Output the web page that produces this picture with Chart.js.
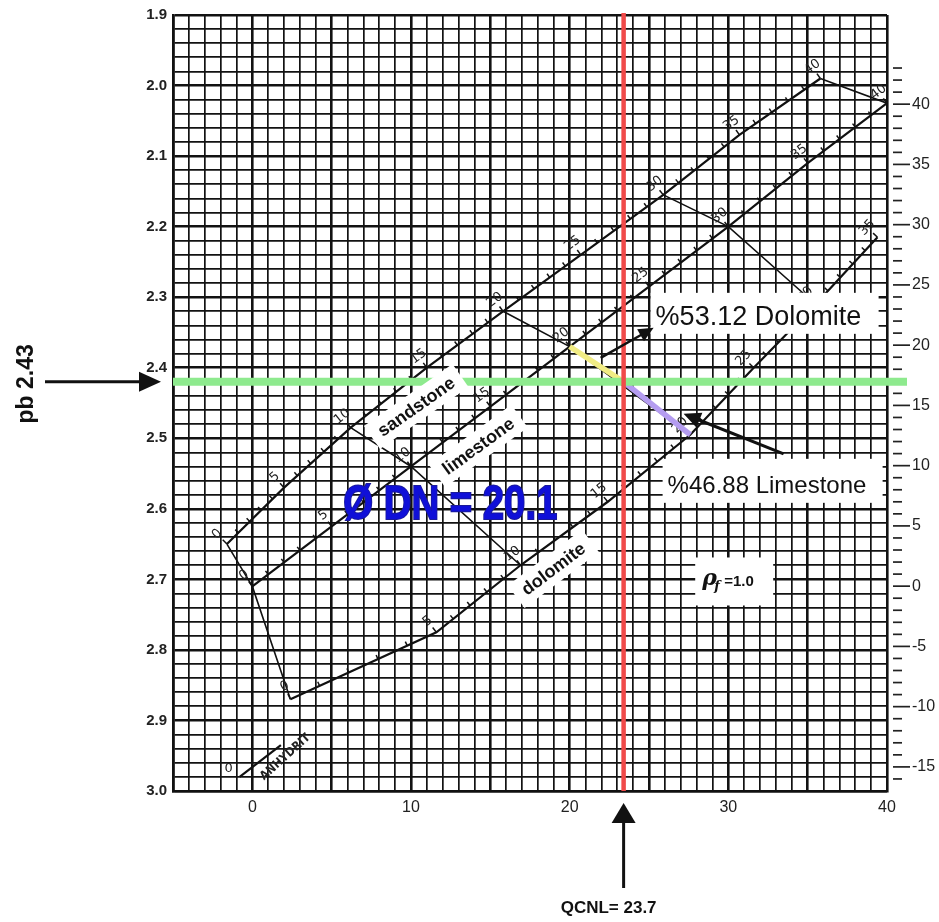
<!DOCTYPE html>
<html>
<head>
<meta charset="utf-8">
<script src="https://cdn.jsdelivr.net/npm/chart.js@4.4.1/dist/chart.umd.min.js"></script>
<style>
  html, body { margin: 0; padding: 0; background: #fff; }
  #wrap { width: 939px; height: 922px; position: relative; }
</style>
</head>
<body>
<div id="wrap"><canvas id="xplot"></canvas></div>
<script>
// Neutron-density crossplot (CNL, rho_f = 1.0) with the lithology reading marked

// porosity marks along each lithology line (p.u.)
const porosityMarks = [0, 5, 10, 15, 20, 25, 30, 35, 40];
const sandstoneCNL = [-1.6, 2.0, 6.2, 11.0, 15.8, 20.7, 25.9, 30.7, 35.8];
const sandstoneRho = [2.65, 2.57, 2.485, 2.40, 2.32, 2.24, 2.155, 2.07, 1.99];
const limestoneCNL = [0, 5, 10, 15, 20, 25, 30, 35, 40];
const limestoneRho = [2.71, 2.625, 2.54, 2.455, 2.37, 2.285, 2.20, 2.11, 2.025];
const dolomiteCNL = [2.4, 11.6, 16.9, 22.4, 27.6, 31.6, 35.5, 39.4];
const dolomiteRho = [2.87, 2.775, 2.68, 2.59, 2.495, 2.40, 2.31, 2.215];
const anhydriteCNL = [-0.8, 1.8];
const anhydriteRho = [2.98, 2.935];
const isoPorosity = [0, 10, 20, 30, 40];

// axes
const xTickLabels = [0, 10, 20, 30, 40];
const rhoTickLabels = [1.9, 2.0, 2.1, 2.2, 2.3, 2.4, 2.5, 2.6, 2.7, 2.8, 2.9, 3.0];
const phiTickLabels = [-15, -10, -5, 0, 5, 10, 15, 20, 25, 30, 35, 40];
const phiMinorFrom = -16, phiMinorTo = 43;

// reading
const qcnlValue = 23.4;
const rhobValue = 2.42;
const qcnlText = 'QCNL= 23.7';
const rhobText = 'pb 2.43';
const phiDNText = 'Ø DN = 20.1';
const dolomitePctText = '%53.12 Dolomite';
const limestonePctText = '%46.88 Limestone';
const fluidText = '=1.0';

const FONT = '"Liberation Sans", Arial, sans-serif';
Chart.defaults.font.family = FONT;
Chart.defaults.color = '#222';

function pts(xs, ys) { return xs.map((x, i) => ({ x: x, y: ys[i] })); }
const isMajorRho = v => Math.abs(v * 10 - Math.round(v * 10)) < 1e-6;

const lithoStyle = { showLine: true, pointRadius: 0, borderColor: '#111', borderWidth: 2.2, tension: 0, fill: false };
const isoStyle = { showLine: true, pointRadius: 0, borderColor: '#111', borderWidth: 1.6, tension: 0, fill: false };

const isoSets = isoPorosity.map(p => {
  const i = porosityMarks.indexOf(p);
  const d = [{ x: sandstoneCNL[i], y: sandstoneRho[i] }, { x: limestoneCNL[i], y: limestoneRho[i] }];
  if (i < dolomiteCNL.length) d.push({ x: dolomiteCNL[i], y: dolomiteRho[i] });
  return Object.assign({ label: 'iso ' + p, data: d }, isoStyle);
});

// tick marks + porosity numbers along the lithology lines
function lineScale(ctx, xs, ys, xS, yS) {
  const p = xs.map((x, i) => [xS.getPixelForValue(x), yS.getPixelForValue(ys[i])]);
  ctx.save();
  ctx.strokeStyle = '#111';
  ctx.fillStyle = '#222';
  ctx.lineWidth = 1.5;
  ctx.font = '13px "DejaVu Sans", sans-serif';
  ctx.textAlign = 'center';
  ctx.textBaseline = 'middle';
  for (let i = 0; i < p.length; i++) {
    const a = p[Math.min(i, p.length - 2)], b = p[Math.min(i, p.length - 2) + 1];
    const dx = b[0] - a[0], dy = b[1] - a[1], len = Math.hypot(dx, dy);
    const nx = dy / len, ny = -dx / len;
    const ang = Math.atan2(dy, dx);
    const steps = i < p.length - 1 ? 5 : 1;
    for (let k = 0; k < steps; k++) {
      const t = k / 5;
      const px = p[i][0] + (i < p.length - 1 ? t * dx : 0);
      const py = p[i][1] + (i < p.length - 1 ? t * dy : 0);
      const tl = k === 0 ? 6 : 4.5;
      ctx.beginPath(); ctx.moveTo(px, py); ctx.lineTo(px + nx * tl, py + ny * tl); ctx.stroke();
      if (k === 0) {
        ctx.save();
        ctx.translate(px + nx * 14, py + ny * 14);
        ctx.rotate(ang);
        ctx.fillText(String(porosityMarks[i]), 0, 0);
        ctx.restore();
      }
    }
  }
  ctx.restore();
}

function arrow(ctx, x1, y1, x2, y2, head, half, width) {
  const ang = Math.atan2(y2 - y1, x2 - x1), c = Math.cos(ang), s = Math.sin(ang);
  ctx.save();
  ctx.strokeStyle = '#111'; ctx.fillStyle = '#111'; ctx.lineWidth = width;
  ctx.beginPath(); ctx.moveTo(x1, y1); ctx.lineTo(x2 - c * head * 0.7, y2 - s * head * 0.7); ctx.stroke();
  ctx.beginPath();
  ctx.moveTo(x2, y2);
  ctx.lineTo(x2 - c * head - s * half, y2 - s * head + c * half);
  ctx.lineTo(x2 - c * head + s * half, y2 - s * head - c * half);
  ctx.closePath(); ctx.fill();
  ctx.restore();
}

function tagBox(ctx, text, cx, cy, deg, font, padX, h) {
  ctx.save();
  ctx.translate(cx, cy); ctx.rotate(deg * Math.PI / 180);
  ctx.font = font;
  const w = ctx.measureText(text).width + padX * 2;
  ctx.fillStyle = '#fff'; ctx.fillRect(-w / 2, -h / 2, w, h);
  ctx.fillStyle = '#111'; ctx.textAlign = 'center'; ctx.textBaseline = 'middle';
  ctx.fillText(text, 0, 1);
  ctx.restore();
}

const overlay = {
  id: 'overlay',
  afterDatasetsDraw(chart) {
    const ctx = chart.ctx, xS = chart.scales.x, yS = chart.scales.y, y2 = chart.scales.y2, area = chart.chartArea;
    const X = v => xS.getPixelForValue(v), Y = v => yS.getPixelForValue(v);

    lineScale(ctx, sandstoneCNL, sandstoneRho, xS, yS);
    lineScale(ctx, limestoneCNL, limestoneRho, xS, yS);
    lineScale(ctx, dolomiteCNL, dolomiteRho, xS, yS);

    // anhydrite point
    ctx.save();
    ctx.fillStyle = '#222'; ctx.font = '13px "DejaVu Sans", sans-serif'; ctx.textAlign = 'center'; ctx.textBaseline = 'middle';
    ctx.fillText('0', X(anhydriteCNL[0]) - 11, Y(anhydriteRho[0]) - 8);
    ctx.translate(X(2.08), Y(2.952)); ctx.rotate(-42 * Math.PI / 180);
    ctx.font = 'bold 12px "DejaVu Sans Condensed", sans-serif';
    ctx.fillText('ANHYDRIT', 0, 0);
    ctx.restore();

    // right axis tick marks
    ctx.save();
    ctx.strokeStyle = '#222'; ctx.lineWidth = 1.7;
    for (let v = phiMinorFrom; v <= phiMinorTo; v++) {
      const yy = y2.getPixelForValue(v);
      const major = phiTickLabels.includes(v);
      ctx.beginPath(); ctx.moveTo(area.right + 6, yy); ctx.lineTo(area.right + (major ? 23 : 15), yy); ctx.stroke();
    }
    ctx.restore();

    const mx = X(qcnlValue), my = Y(rhobValue);
    const li = porosityMarks.indexOf(20);

    // lime-dolomite split segment
    ctx.save();
    ctx.lineCap = 'butt'; ctx.lineWidth = 5.5;
    ctx.strokeStyle = '#f1ec84';
    ctx.beginPath(); ctx.moveTo(X(limestoneCNL[li]), Y(limestoneRho[li])); ctx.lineTo(mx, my); ctx.stroke();
    ctx.strokeStyle = '#b49cf0';
    ctx.beginPath(); ctx.moveTo(mx, my); ctx.lineTo(X(dolomiteCNL[li]), Y(dolomiteRho[li])); ctx.stroke();
    // density line
    ctx.strokeStyle = '#8eea8e'; ctx.lineWidth = 8;
    ctx.beginPath(); ctx.moveTo(area.left, my); ctx.lineTo(area.right + 20, my); ctx.stroke();
    // neutron line
    ctx.strokeStyle = '#f04a4a'; ctx.lineWidth = 4.5;
    ctx.beginPath(); ctx.moveTo(mx, area.top - 2); ctx.lineTo(mx, area.bottom); ctx.stroke();
    ctx.restore();

    // lithology tags
    const tagFont = 'bold 18px ' + FONT;
    tagBox(ctx, 'sandstone', X(10.33), Y(2.455), -35, tagFont, 9, 28);
    tagBox(ctx, 'limestone', X(14.24), Y(2.511), -36, tagFont, 9, 28);
    tagBox(ctx, 'dolomite', X(18.97), Y(2.685), -37, tagFont, 9, 28);

    // density-neutron porosity
    ctx.save();
    ctx.font = 'bold 48px "Liberation Sans Narrow", ' + FONT;
    ctx.textAlign = 'center'; ctx.textBaseline = 'middle';
    ctx.fillStyle = '#1010d8'; ctx.strokeStyle = '#1a1a9a'; ctx.lineWidth = 2;
    ctx.strokeText(phiDNText, X(12.48), Y(2.596), 214);
    ctx.fillText(phiDNText, X(12.48), Y(2.596), 214);
    ctx.restore();

    // rho_f box
    ctx.save();
    const fx = X(30.37), fy = Y(2.703);
    ctx.fillStyle = '#fff'; ctx.fillRect(fx - 39, fy - 24, 78, 48);
    ctx.fillStyle = '#111'; ctx.textBaseline = 'alphabetic'; ctx.textAlign = 'left';
    ctx.font = 'bold italic 22px "DejaVu Serif", serif';
    ctx.fillText('ρ', fx - 32, fy + 4);
    ctx.font = 'bold italic 13px "DejaVu Serif", serif';
    ctx.fillText('f', fx - 20, fy + 9);
    ctx.font = 'bold 15px ' + FONT;
    ctx.fillText(fluidText, fx - 10, fy + 5);
    ctx.restore();

    // percentage boxes
    ctx.save();
    ctx.fillStyle = '#fff';
    ctx.fillRect(mx + 27, my - 89, 228, 41);
    ctx.fillRect(mx + 39, my + 77, 220, 44);
    ctx.fillStyle = '#111'; ctx.textAlign = 'left'; ctx.textBaseline = 'alphabetic';
    ctx.font = '27px ' + FONT;
    ctx.fillText(dolomitePctText, mx + 32, my - 57, 218);
    ctx.font = '24px ' + FONT;
    ctx.fillText(limestonePctText, mx + 44, my + 111, 205);
    ctx.restore();
    arrow(ctx, mx - 23, my - 24, mx + 30, my - 54, 15, 7, 2.5);
    arrow(ctx, mx + 160, my + 72, mx + 60, my + 32, 17, 8, 3);

    // density reading arrow
    arrow(ctx, area.left - 128, my, area.left - 12, my, 22, 10, 3);
    ctx.save();
    ctx.translate(area.left - 146, my + 2); ctx.rotate(-Math.PI / 2);
    ctx.font = 'bold 23px ' + FONT; ctx.fillStyle = '#111';
    ctx.textAlign = 'center'; ctx.textBaseline = 'middle';
    ctx.fillText(rhobText, 0, 0);
    ctx.restore();

    // neutron reading arrow
    arrow(ctx, mx, area.bottom + 97, mx, area.bottom + 12, 20, 12, 3);
    ctx.save();
    ctx.font = 'bold 17px ' + FONT; ctx.fillStyle = '#111';
    ctx.textAlign = 'center'; ctx.textBaseline = 'alphabetic';
    ctx.fillText(qcnlText, mx - 15, area.bottom + 122);
    ctx.restore();
  }
};

new Chart(document.getElementById('xplot'), {
  type: 'scatter',
  data: {
    datasets: [
      Object.assign({ label: 'sandstone', data: pts(sandstoneCNL, sandstoneRho) }, lithoStyle),
      Object.assign({ label: 'limestone', data: pts(limestoneCNL, limestoneRho) }, lithoStyle),
      Object.assign({ label: 'dolomite', data: pts(dolomiteCNL, dolomiteRho) }, lithoStyle),
      Object.assign({ label: 'anhydrite', data: pts(anhydriteCNL, anhydriteRho) }, lithoStyle),
      ...isoSets
    ]
  },
  options: {
    responsive: true,
    maintainAspectRatio: false,
    animation: false,
    events: [],
    layout: { padding: { top: 12, left: 0, right: 0, bottom: 0 } },
    plugins: { legend: { display: false }, tooltip: { enabled: false } },
    scales: {
      x: {
        type: 'linear', position: 'bottom', min: -5, max: 40,
        ticks: {
          stepSize: 1, autoSkip: false, maxRotation: 0, minRotation: 0, padding: 7,
          font: { size: 16 }, color: '#222',
          callback: v => xTickLabels.includes(v) ? String(v) : ''
        },
        grid: {
          drawTicks: false, color: '#121212',
          lineWidth: c => (c.tick && Math.round(c.tick.value) % 5 === 0) ? 2.6 : 1.7
        },
        border: { color: '#111', width: 2.6 },
        afterFit: s => { s.height = 131; }
      },
      y: {
        type: 'linear', position: 'left', reverse: true, min: 1.9, max: 3.0,
        ticks: {
          stepSize: 0.02, autoSkip: false, padding: 6,
          font: { size: 15, weight: 'bold' }, color: '#222',
          callback: v => rhoTickLabels.some(r => Math.abs(r - v) < 1e-6) ? v.toFixed(1) : ''
        },
        grid: {
          drawTicks: false, color: '#121212',
          lineWidth: c => (c.tick && isMajorRho(c.tick.value)) ? 2.6 : 1.7
        },
        border: { color: '#111', width: 2.6 },
        afterFit: s => { s.width = 173; }
      },
      y2: {
        type: 'linear', position: 'right', min: -17.0, max: 47.4,
        afterBuildTicks: s => { s.ticks = phiTickLabels.map(v => ({ value: v })); },
        ticks: { autoSkip: false, padding: 3, font: { size: 16 }, color: '#222', callback: v => String(v) },
        grid: { drawOnChartArea: false, drawTicks: true, tickLength: 22, tickColor: 'rgba(0,0,0,0)' },
        border: { display: false },
        afterFit: s => { s.width = 52; }
      }
    }
  },
  plugins: [overlay]
});
</script>
</body>
</html>
